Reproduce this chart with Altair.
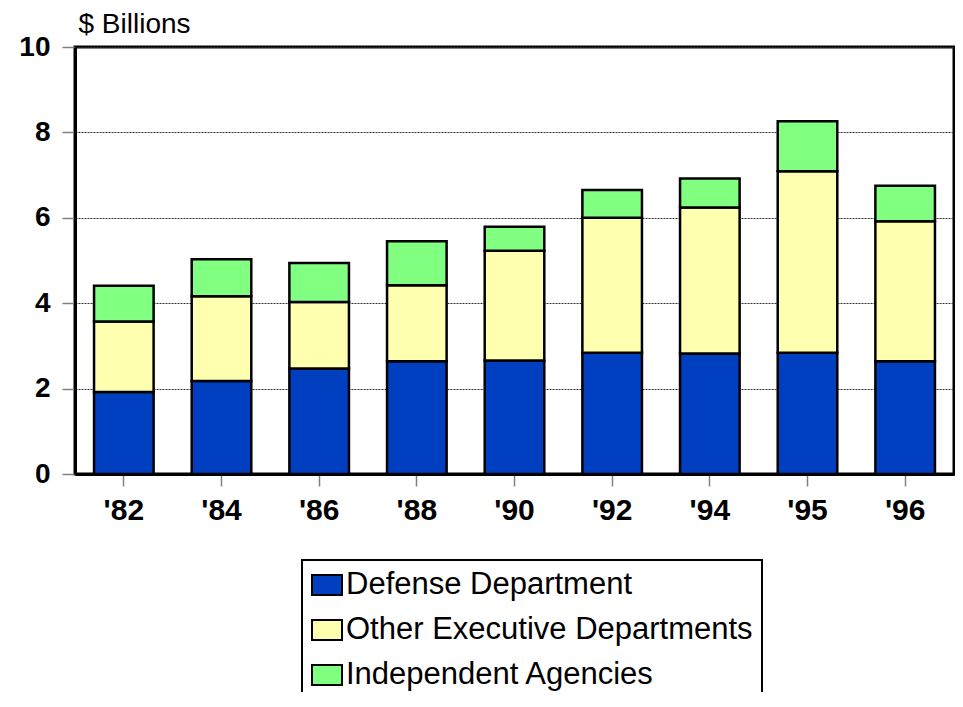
import altair as alt
import pandas as pd

years = ["'82", "'84", "'86", "'88", "'90", "'92", "'94", "'95", "'96"]
series = ["Defense Department", "Other Executive Departments", "Independent Agencies"]
defense = [1.92, 2.18, 2.47, 2.64, 2.66, 2.84, 2.82, 2.84, 2.64]
other_exec = [1.65, 1.98, 1.56, 1.78, 2.57, 3.16, 3.42, 4.25, 3.28]
independent = [0.84, 0.87, 0.91, 1.03, 0.56, 0.65, 0.68, 1.17, 0.83]
colors = ["#0040C0", "#FFFFB0", "#80FF80"]
y_ticks = [0, 2, 4, 6, 8, 10]

rows = []
for i, y in enumerate(years):
    for k, (name, vals) in enumerate(zip(series, [defense, other_exec, independent])):
        rows.append({"year": y, "series": name, "value": vals[i], "idx": k})
df = pd.DataFrame(rows)

FONT = "Liberation Sans"

chart = alt.Chart(df).mark_bar(stroke="black", strokeWidth=2.5).encode(
    x=alt.X("year:N", sort=years,
            scale=alt.Scale(paddingInner=0.39, paddingOuter=0.195),
            axis=alt.Axis(title=None, labelAngle=0, labelFont=FONT, labelFontSize=30,
                          labelFontWeight="bold", labelColor="black", labelPadding=9,
                          domainColor="black", domainWidth=3, tickColor="#808080",
                          tickWidth=1.5, tickSize=12, grid=False)),
    y=alt.Y("value:Q", stack="zero",
            scale=alt.Scale(domain=[0, 10], nice=False),
            axis=alt.Axis(values=y_ticks, title="$ Billions", titleAngle=0,
                          titleAlign="left", titleBaseline="middle", titleX=3, titleY=-23,
                          titleFont=FONT, titleFontSize=28, titleFontWeight="normal",
                          titleColor="black",
                          labelFont=FONT, labelFontSize=28, labelFontWeight="bold",
                          labelColor="black", labelPadding=12,
                          domainColor="black", domainWidth=3, tickColor="#808080",
                          tickWidth=1.5, tickSize=13,
                          grid=True, gridColor="#333333", gridWidth=1, gridDash=[2, 1])),
    color=alt.Color("series:N", sort=series,
                    scale=alt.Scale(domain=series, range=colors),
                    legend=alt.Legend(title=None, orient="none", legendX=227, legendY=513,
                                      direction="vertical",
                                      symbolType="M-1,-0.667H1V0.667H-1Z", symbolSize=900,
                                      symbolStrokeColor="black", symbolStrokeWidth=2,
                                      symbolOpacity=1,
                                      labelFont=FONT, labelFontSize=31, labelColor="black",
                                      labelOffset=3, labelLimit=1000,
                                      rowPadding=14, padding=9,
                                      strokeColor="black", fillColor="white")),
    order=alt.Order("idx:Q", sort="ascending"),
).properties(
    width=879, height=427,
    autosize=alt.AutoSizeParams(type="none"),
    padding={"left": 67, "top": 39, "right": 1, "bottom": 218},
).configure_view(
    stroke="black", strokeWidth=3
).configure_legend(
    strokeWidth=2
)

chart.save("out.html", embed_options={"renderer": "svg", "actions": False})
